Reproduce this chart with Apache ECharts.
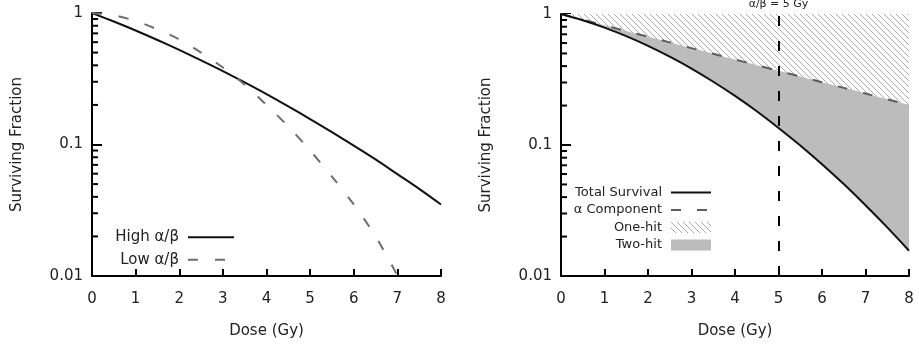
<!DOCTYPE html>
<html>
<head>
<meta charset="utf-8">
<script src="https://cdn.jsdelivr.net/npm/echarts@6/dist/echarts.min.js"></script>
<style>
  html, body { margin: 0; padding: 0; background: #fff; }
  #chart { width: 919px; height: 344px; }
</style>
</head>
<body>
<div id="chart"></div>
<script>
// Dose grid (Gy)
const doses = [0, 0.5, 1, 1.5, 2, 2.5, 3, 3.5, 4, 4.5, 5, 5.5, 6, 6.5, 7, 7.5, 8];
const dosesLow = [0, 0.5, 1, 1.5, 2, 2.5, 3, 3.5, 4, 4.5, 5, 5.5, 6, 6.5, 7];

// Left panel: surviving fraction for high and low alpha/beta tissues
const highAB = [1, 0.861, 0.736, 0.623, 0.524, 0.437, 0.362, 0.297, 0.242, 0.195, 0.156, 0.124, 0.098, 0.077, 0.0595, 0.046, 0.035];
const lowAB = [1, 0.96, 0.87, 0.75, 0.63, 0.50, 0.385, 0.285, 0.20, 0.137, 0.09, 0.057, 0.035, 0.020, 0.0101];

// Right panel: total survival and its alpha (one-hit) component, alpha/beta = 5 Gy
const totalSurvival = [1, 0.896, 0.787, 0.677, 0.571, 0.472, 0.383, 0.304, 0.237, 0.181, 0.135, 0.0993, 0.0714, 0.0503, 0.0347, 0.0235, 0.0156];
const alphaComponent = [1, 0.905, 0.819, 0.741, 0.670, 0.607, 0.549, 0.497, 0.449, 0.407, 0.368, 0.333, 0.301, 0.273, 0.247, 0.223, 0.202];
const alphaBetaDose = 5;

// Axis ticks
const xTicks = [0, 1, 2, 3, 4, 5, 6, 7, 8];
const yMajorTicks = [0.01, 0.1, 1];
const yMinorTicks = [0.02, 0.03, 0.04, 0.05, 0.06, 0.07, 0.08, 0.09, 0.2, 0.3, 0.4, 0.5, 0.6, 0.7, 0.8, 0.9];

const FONT = 'DejaVu Sans';
const TXT = '#222';
const NO_SYMBOL = { color: 'rgba(0,0,0,0)', borderColor: 'rgba(0,0,0,0)', borderWidth: 0 };

function pairs(xs, ys) { return ys.map((y, i) => [xs[i], y]); }

// Diagonal hatch used for the one-hit region
function makeHatch() {
  const s = 6;
  const c = document.createElement('canvas');
  c.width = s; c.height = s;
  const g = c.getContext('2d');
  g.fillStyle = '#ffffff';
  g.fillRect(0, 0, s, s);
  g.strokeStyle = '#aaaaaa';
  g.lineWidth = 1;
  for (const x0 of [-s, 0, s]) {
    g.beginPath();
    g.moveTo(x0, 0);
    g.lineTo(x0 + s, s);
    g.stroke();
  }
  return c;
}
const hatch = { image: makeHatch(), repeat: 'repeat' };

function xAxisFor(gridIndex) {
  return {
    type: 'value', gridIndex, min: 0, max: 8, interval: 1,
    name: 'Dose (Gy)', nameLocation: 'middle', nameGap: 48,
    nameTextStyle: { fontFamily: FONT, fontSize: 15, color: TXT },
    axisLine: { show: true, onZero: false, lineStyle: { color: '#000', width: 2 } },
    axisTick: { show: true, inside: true, length: 7, lineStyle: { color: '#000', width: 2 } },
    axisLabel: { fontFamily: FONT, fontSize: 15, color: TXT, margin: 16,
                 formatter: v => (xTicks.indexOf(v) >= 0 ? String(v) : '') },
    splitLine: { show: false }
  };
}
function yAxisFor(gridIndex) {
  return {
    type: 'log', logBase: 10, gridIndex, min: yMajorTicks[0], max: yMajorTicks[yMajorTicks.length - 1],
    name: 'Surviving Fraction', nameLocation: 'middle', nameGap: 67, nameRotate: 90,
    nameTextStyle: { fontFamily: FONT, fontSize: 15, color: TXT },
    axisLine: { show: true, lineStyle: { color: '#000', width: 2 } },
    axisTick: { show: true, inside: true, length: 10, lineStyle: { color: '#000', width: 2 } },
    axisLabel: { fontFamily: FONT, fontSize: 15, color: TXT, margin: 9,
                 formatter: v => String(+v.toPrecision(3)) },
    splitLine: { show: false }
  };
}

// Short inward minor ticks on the log axis (2..9 per decade)
function minorTickSeries(xAxisIndex, yAxisIndex) {
  return {
    type: 'custom', xAxisIndex, yAxisIndex, silent: true, clip: false, z: 5,
    data: yMinorTicks.map(v => [0, v]),
    renderItem: (params, api) => {
      const p = api.coord([0, api.value(1)]);
      return { type: 'line', shape: { x1: p[0], y1: p[1], x2: p[0] + 6, y2: p[1] },
               style: { stroke: '#000', lineWidth: 2 } };
    }
  };
}

const chart = echarts.init(document.getElementById('chart'), null, { renderer: 'canvas' });
chart.setOption({
  animation: false,
  backgroundColor: '#fff',
  grid: [
    { left: 92, top: 13, width: 349, height: 263 },
    { left: 561, top: 14, width: 348, height: 262 }
  ],
  xAxis: [xAxisFor(0), xAxisFor(1)],
  yAxis: [yAxisFor(0), yAxisFor(1)],
  legend: [
    {
      orient: 'vertical', align: 'right', right: 684, top: 229.7, padding: 0,
      itemWidth: 46, itemHeight: 14, itemGap: 7.6,
      textStyle: { fontFamily: FONT, fontSize: 15, color: TXT, padding: [0, 4, 0, 0] },
      data: [
        { name: 'High α/β', itemStyle: NO_SYMBOL },
        { name: 'Low α/β', itemStyle: NO_SYMBOL }
      ]
    },
    {
      orient: 'vertical', align: 'right', right: 207, top: 186, padding: 0,
      itemWidth: 40, itemHeight: 11, itemGap: 4.5,
      textStyle: { fontFamily: FONT, fontSize: 13, color: TXT, padding: [0, 4, 0, 0] },
      data: [
        { name: 'Total Survival', itemStyle: NO_SYMBOL },
        { name: 'α Component', itemStyle: NO_SYMBOL },
        { name: 'One-hit', icon: 'rect', itemStyle: { color: hatch } },
        { name: 'Two-hit', icon: 'rect', itemStyle: { color: '#bcbcbc' } }
      ]
    }
  ],
  series: [
    {
      name: 'High α/β', type: 'line', xAxisIndex: 0, yAxisIndex: 0,
      data: pairs(doses, highAB), smooth: 0.3, symbol: 'none',
      lineStyle: { color: '#111', width: 2 }, itemStyle: { color: '#111' }, z: 3
    },
    {
      name: 'Low α/β', type: 'line', xAxisIndex: 0, yAxisIndex: 0,
      data: pairs(dosesLow, lowAB), smooth: 0.3, symbol: 'none',
      lineStyle: { color: '#6e6e6e', width: 2, type: [10, 17] }, itemStyle: { color: '#6e6e6e' }, z: 3
    },
    minorTickSeries(0, 0),
    {
      name: 'Two-hit', type: 'line', xAxisIndex: 1, yAxisIndex: 1,
      data: pairs(doses, totalSurvival), smooth: 0.3, symbol: 'none',
      lineStyle: { width: 0 }, itemStyle: { color: '#bcbcbc' },
      areaStyle: { origin: 'end', color: '#bcbcbc', opacity: 1 }, z: 1
    },
    {
      name: 'One-hit', type: 'line', xAxisIndex: 1, yAxisIndex: 1,
      data: pairs(doses, alphaComponent), smooth: 0.3, symbol: 'none',
      lineStyle: { width: 0 }, itemStyle: { color: '#aaaaaa' },
      areaStyle: { origin: 'end', color: hatch, opacity: 1 }, z: 2
    },
    {
      name: 'Total Survival', type: 'line', xAxisIndex: 1, yAxisIndex: 1,
      data: pairs(doses, totalSurvival), smooth: 0.3, symbol: 'none',
      lineStyle: { color: '#111', width: 2 }, itemStyle: { color: '#111' }, z: 4,
      markLine: {
        silent: true, symbol: 'none', animation: false,
        lineStyle: { color: '#000', width: 2, type: [10, 15] },
        label: { show: true, position: 'end', distance: 4, formatter: 'α/β = 5 Gy',
                 fontFamily: FONT, fontSize: 11, color: TXT },
        data: [{ xAxis: alphaBetaDose }]
      }
    },
    {
      name: 'α Component', type: 'line', xAxisIndex: 1, yAxisIndex: 1,
      data: pairs(doses, alphaComponent), smooth: 0.3, symbol: 'none',
      lineStyle: { color: '#5e5e5e', width: 2, type: [10, 16] }, itemStyle: { color: '#5e5e5e' }, z: 3
    },
    minorTickSeries(1, 1)
  ]
});
</script>
</body>
</html>
